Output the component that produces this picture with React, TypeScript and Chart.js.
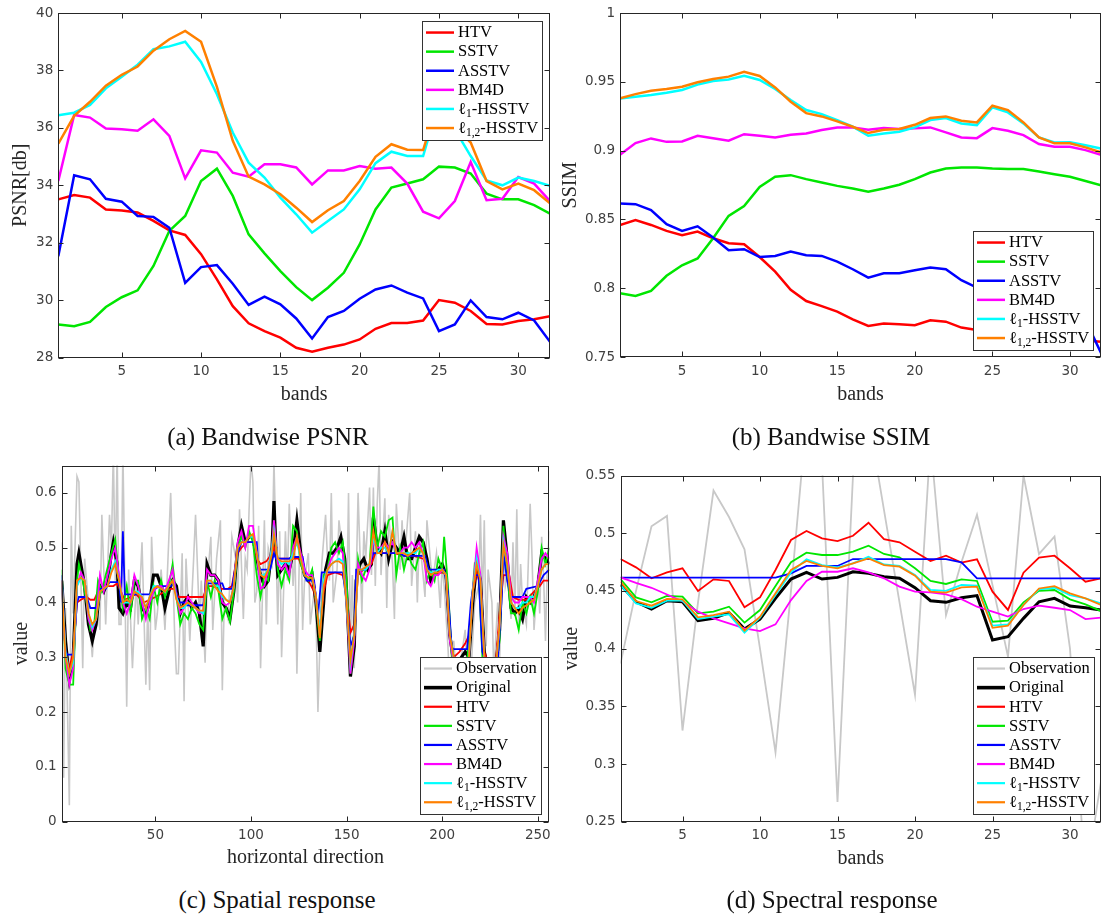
import React, { useEffect, useRef } from "react";
import { Chart, registerables } from "chart.js";

Chart.register(...registerables);

const SERIF = "'Liberation Serif', 'Times New Roman', serif";
const SANS = "'DejaVu Sans', sans-serif";

// ---------- shared band axis ----------
const bands = [1, 2, 3, 4, 5, 6, 7, 8, 9, 10, 11, 12, 13, 14, 15, 16, 17, 18, 19, 20, 21, 22, 23, 24, 25, 26, 27, 28, 29, 30, 31, 32];
const bandTicks = [5, 10, 15, 20, 25, 30];

// ---------- (a) bandwise PSNR ----------
const psnrTicks = [28, 30, 32, 34, 36, 38, 40];
const psnrHTV = [33.51, 33.66, 33.57, 33.16, 33.12, 33.05, 32.76, 32.43, 32.27, 31.6, 30.72, 29.79, 29.19, 28.92, 28.69, 28.34, 28.2, 28.34, 28.45, 28.63, 29.0, 29.2, 29.2, 29.29, 30.0, 29.91, 29.62, 29.17, 29.15, 29.27, 29.33, 29.44];
const psnrSSTV = [29.15, 29.09, 29.24, 29.76, 30.1, 30.34, 31.19, 32.41, 32.93, 34.15, 34.58, 33.63, 32.29, 31.63, 31.01, 30.45, 30.0, 30.43, 30.95, 31.94, 33.16, 33.92, 34.06, 34.21, 34.65, 34.62, 34.41, 33.71, 33.51, 33.51, 33.31, 33.01];
const psnrASSTV = [31.53, 34.35, 34.21, 33.53, 33.43, 32.93, 32.9, 32.52, 30.6, 31.15, 31.22, 30.57, 29.83, 30.12, 29.85, 29.36, 28.66, 29.41, 29.62, 30.05, 30.37, 30.51, 30.26, 30.06, 28.92, 29.15, 29.99, 29.41, 29.33, 29.56, 29.29, 28.55];
const psnrBM4D = [34.15, 36.45, 36.36, 35.98, 35.95, 35.9, 36.3, 35.72, 34.24, 35.22, 35.14, 34.44, 34.3, 34.73, 34.73, 34.62, 34.03, 34.52, 34.52, 34.67, 34.58, 34.62, 34.06, 33.08, 32.85, 33.45, 34.81, 33.48, 33.53, 34.29, 34.06, 33.45];
const psnrL1 = [36.44, 36.53, 36.8, 37.38, 37.78, 38.2, 38.74, 38.84, 39.0, 38.3, 37.17, 35.84, 34.79, 34.27, 33.57, 32.99, 32.35, 32.76, 33.16, 33.86, 34.77, 35.17, 35.02, 35.02, 36.9, 35.95, 35.02, 34.17, 34.0, 34.27, 34.15, 33.98];
const psnrL12 = [35.45, 36.42, 36.91, 37.47, 37.85, 38.14, 38.69, 39.09, 39.38, 39.0, 37.43, 35.55, 34.3, 34.03, 33.69, 33.22, 32.72, 33.13, 33.45, 34.15, 34.99, 35.43, 35.24, 35.23, 37.0, 36.05, 35.49, 34.15, 33.86, 34.06, 33.83, 33.37];

// ---------- (b) bandwise SSIM ----------
const ssimTicks = [0.75, 0.8, 0.85, 0.9, 0.95, 1];
const ssimHTV = [0.846, 0.8495, 0.846, 0.8417, 0.8385, 0.8412, 0.8363, 0.8327, 0.832, 0.8227, 0.812, 0.7988, 0.7907, 0.787, 0.783, 0.7774, 0.7726, 0.7743, 0.7738, 0.7731, 0.7767, 0.7757, 0.7714, 0.7697, 0.769, 0.768, 0.767, 0.766, 0.764, 0.763, 0.762, 0.761];
const ssimSSTV = [0.7963, 0.7944, 0.798, 0.809, 0.8167, 0.8216, 0.8363, 0.8526, 0.8598, 0.8737, 0.881, 0.8822, 0.8793, 0.8769, 0.8744, 0.8725, 0.8701, 0.8725, 0.8752, 0.8793, 0.8841, 0.887, 0.8878, 0.8878, 0.887, 0.8866, 0.8866, 0.8849, 0.8829, 0.881, 0.878, 0.8749];
const ssimASSTV = [0.8616, 0.8611, 0.8568, 0.8465, 0.8417, 0.845, 0.8368, 0.8276, 0.8284, 0.8227, 0.8235, 0.8267, 0.824, 0.8235, 0.8194, 0.8138, 0.8077, 0.8109, 0.8109, 0.8131, 0.815, 0.8138, 0.8058, 0.8004, 0.798, 0.795, 0.792, 0.789, 0.786, 0.782, 0.777, 0.753];
const ssimBM4D = [0.897, 0.9055, 0.9089, 0.9064, 0.9067, 0.9108, 0.9091, 0.9072, 0.912, 0.9108, 0.9096, 0.9116, 0.9125, 0.915, 0.9169, 0.9169, 0.9152, 0.9164, 0.9157, 0.9162, 0.9169, 0.9133, 0.9096, 0.9091, 0.9164, 0.9145, 0.9113, 0.9048, 0.9028, 0.9028, 0.9004, 0.897];
const ssimL1 = [0.938, 0.9392, 0.9404, 0.9421, 0.9441, 0.948, 0.9506, 0.9518, 0.9545, 0.9514, 0.9448, 0.9368, 0.9295, 0.9266, 0.9222, 0.9174, 0.9108, 0.9125, 0.9137, 0.9169, 0.9222, 0.9237, 0.9198, 0.9186, 0.9315, 0.9278, 0.9198, 0.9096, 0.906, 0.9062, 0.904, 0.9016];
const ssimL12 = [0.938, 0.9411, 0.9436, 0.9448, 0.9465, 0.9497, 0.9521, 0.9538, 0.9574, 0.9543, 0.946, 0.9356, 0.9273, 0.9249, 0.9213, 0.9174, 0.9128, 0.9152, 0.9157, 0.9188, 0.9237, 0.9249, 0.9217, 0.9205, 0.9327, 0.9295, 0.9205, 0.9096, 0.9053, 0.9053, 0.9024, 0.8988];

// ---------- (c) spatial response, [column, value] ----------
const spatialXTicks = [50, 100, 150, 200, 250];
const valueTicksC = [0, 0.1, 0.2, 0.3, 0.4, 0.5, 0.6];
type Pt = [number, number];
const spatialObs: Pt[] = [[1, 0.51], [2, 0.08], [3, 0.39], [5, 0.03], [6, 0.54], [7, 0.38], [9, 0.63], [10, 0.62], [12, 0.28], [13, 0.48], [15, 0.4], [17, 0.3], [19, 0.41], [21, 0.35], [22, 0.56], [24, 0.36], [26, 0.56], [27, 0.5], [28, 0.68], [29, 0.44], [30, 0.68], [31, 0.36], [32, 0.36], [33, 0.68], [34, 0.44], [35, 0.21], [36, 0.46], [38, 0.28], [40, 0.44], [41, 0.36], [43, 0.51], [45, 0.25], [46, 0.39], [47, 0.24], [48, 0.52], [50, 0.35], [51, 0.38], [53, 0.46], [55, 0.35], [56, 0.43], [58, 0.6], [60, 0.35], [61, 0.27], [62, 0.27], [64, 0.49], [65, 0.22], [66, 0.48], [68, 0.33], [70, 0.48], [71, 0.56], [73, 0.37], [74, 0.44], [76, 0.29], [77, 0.43], [79, 0.52], [80, 0.35], [82, 0.48], [84, 0.55], [85, 0.24], [86, 0.4], [88, 0.37], [89, 0.44], [90, 0.52], [92, 0.48], [93, 0.4], [94, 0.57], [96, 0.37], [97, 0.48], [98, 0.46], [99, 0.57], [100, 0.66], [101, 0.62], [102, 0.4], [103, 0.42], [104, 0.54], [105, 0.28], [107, 0.55], [108, 0.36], [109, 0.5], [111, 0.47], [112, 0.66], [114, 0.36], [115, 0.53], [116, 0.3], [118, 0.53], [119, 0.44], [120, 0.58], [122, 0.43], [123, 0.5], [124, 0.27], [126, 0.6], [127, 0.35], [128, 0.44], [130, 0.49], [131, 0.36], [133, 0.42], [134, 0.38], [135, 0.2], [136, 0.32], [137, 0.47], [139, 0.56], [140, 0.48], [141, 0.44], [142, 0.6], [143, 0.4], [145, 0.46], [146, 0.55], [148, 0.49], [150, 0.38], [151, 0.6], [152, 0.33], [153, 0.45], [154, 0.28], [156, 0.6], [158, 0.38], [159, 0.53], [160, 0.48], [162, 0.61], [163, 0.45], [164, 0.61], [165, 0.43], [166, 0.58], [167, 0.66], [168, 0.45], [169, 0.52], [170, 0.59], [171, 0.39], [172, 0.56], [174, 0.47], [175, 0.37], [176, 0.58], [178, 0.46], [179, 0.55], [180, 0.47], [181, 0.51], [183, 0.6], [184, 0.43], [186, 0.53], [187, 0.4], [188, 0.52], [190, 0.45], [191, 0.41], [192, 0.55], [194, 0.47], [195, 0.44], [197, 0.49], [199, 0.39], [200, 0.47], [201, 0.43], [203, 0.32], [204, 0.24], [206, 0.33], [208, 0.24], [210, 0.3], [212, 0.35], [213, 0.28], [215, 0.27], [217, 0.4], [219, 0.43], [220, 0.56], [221, 0.4], [222, 0.55], [223, 0.32], [224, 0.46], [226, 0.4], [227, 0.27], [229, 0.4], [230, 0.29], [231, 0.43], [232, 0.55], [233, 0.43], [234, 0.45], [236, 0.37], [237, 0.51], [238, 0.38], [239, 0.57], [240, 0.35], [241, 0.47], [242, 0.4], [244, 0.36], [245, 0.47], [246, 0.58], [247, 0.48], [248, 0.35], [250, 0.45], [251, 0.38], [252, 0.52], [253, 0.45], [254, 0.33], [255, 0.47], [256, 0.53]];
const spatialOrig: Pt[] = [[1, 0.44], [3, 0.33], [5, 0.26], [7, 0.3], [9, 0.47], [10, 0.49], [11, 0.47], [13, 0.43], [15, 0.36], [17, 0.33], [19, 0.36], [21, 0.43], [23, 0.42], [25, 0.44], [27, 0.49], [28, 0.51], [30, 0.47], [31, 0.39], [33, 0.38], [35, 0.4], [37, 0.39], [39, 0.44], [41, 0.43], [43, 0.39], [45, 0.38], [47, 0.4], [49, 0.45], [51, 0.45], [53, 0.43], [55, 0.39], [57, 0.42], [59, 0.44], [61, 0.43], [63, 0.38], [65, 0.4], [67, 0.41], [69, 0.39], [71, 0.4], [73, 0.38], [75, 0.32], [77, 0.47], [79, 0.45], [81, 0.45], [83, 0.44], [85, 0.4], [87, 0.39], [89, 0.37], [91, 0.42], [93, 0.5], [95, 0.54], [97, 0.51], [99, 0.52], [101, 0.52], [103, 0.48], [105, 0.45], [107, 0.43], [109, 0.44], [111, 0.5], [112, 0.585], [113, 0.5], [114, 0.45], [116, 0.46], [118, 0.47], [120, 0.46], [122, 0.49], [124, 0.55], [126, 0.49], [128, 0.45], [130, 0.44], [132, 0.45], [134, 0.4], [136, 0.31], [138, 0.4], [139, 0.46], [141, 0.49], [143, 0.49], [145, 0.5], [147, 0.52], [149, 0.48], [150, 0.42], [152, 0.265], [154, 0.32], [155, 0.44], [157, 0.47], [159, 0.48], [161, 0.46], [163, 0.47], [164, 0.555], [166, 0.5], [168, 0.49], [170, 0.53], [172, 0.48], [174, 0.51], [176, 0.5], [178, 0.49], [180, 0.52], [182, 0.48], [184, 0.48], [186, 0.5], [188, 0.52], [190, 0.51], [192, 0.48], [194, 0.44], [196, 0.45], [198, 0.46], [200, 0.47], [202, 0.45], [204, 0.34], [206, 0.29], [208, 0.29], [210, 0.3], [212, 0.31], [214, 0.3], [216, 0.4], [218, 0.47], [220, 0.44], [222, 0.31], [224, 0.28], [228, 0.28], [230, 0.35], [232, 0.55], [234, 0.48], [236, 0.39], [238, 0.38], [240, 0.39], [242, 0.37], [244, 0.41], [246, 0.4], [248, 0.41], [250, 0.43], [252, 0.49], [254, 0.48], [256, 0.47]];
const spatialHTV: Pt[] = [[1, 0.44], [3, 0.31], [5, 0.28], [7, 0.31], [9, 0.4], [11, 0.405], [14, 0.41], [16, 0.405], [18, 0.405], [20, 0.42], [24, 0.43], [28, 0.43], [30, 0.435], [32, 0.42], [34, 0.405], [37, 0.41], [40, 0.415], [44, 0.4], [47, 0.405], [50, 0.41], [55, 0.42], [58, 0.425], [60, 0.425], [62, 0.41], [66, 0.41], [70, 0.41], [75, 0.41], [77, 0.43], [80, 0.43], [84, 0.425], [88, 0.425], [90, 0.43], [93, 0.49], [95, 0.5], [98, 0.51], [101, 0.51], [103, 0.48], [105, 0.47], [108, 0.475], [111, 0.49], [112, 0.5], [114, 0.48], [118, 0.48], [122, 0.48], [125, 0.48], [127, 0.46], [130, 0.44], [133, 0.42], [136, 0.35], [138, 0.42], [140, 0.45], [144, 0.455], [148, 0.45], [150, 0.42], [152, 0.345], [154, 0.36], [156, 0.45], [160, 0.465], [163, 0.47], [165, 0.49], [170, 0.49], [175, 0.49], [180, 0.485], [185, 0.485], [190, 0.48], [193, 0.46], [195, 0.45], [200, 0.455], [202, 0.45], [204, 0.34], [206, 0.3], [209, 0.31], [212, 0.325], [214, 0.34], [216, 0.42], [218, 0.455], [220, 0.43], [222, 0.31], [224, 0.29], [228, 0.29], [230, 0.38], [232, 0.45], [235, 0.45], [237, 0.41], [240, 0.405], [244, 0.405], [248, 0.42], [251, 0.43], [253, 0.44], [256, 0.44]];
const spatialSSTV: Pt[] = [[1, 0.46], [3, 0.28], [5, 0.25], [7, 0.25], [9, 0.44], [10, 0.47], [12, 0.44], [14, 0.4], [16, 0.35], [18, 0.36], [20, 0.44], [22, 0.42], [24, 0.45], [27, 0.49], [29, 0.515], [31, 0.44], [33, 0.39], [35, 0.43], [37, 0.38], [39, 0.44], [41, 0.44], [43, 0.37], [45, 0.39], [47, 0.37], [49, 0.43], [51, 0.4], [53, 0.44], [55, 0.41], [57, 0.43], [59, 0.47], [61, 0.41], [63, 0.36], [65, 0.38], [67, 0.37], [69, 0.39], [71, 0.38], [73, 0.36], [75, 0.35], [77, 0.44], [79, 0.41], [81, 0.44], [83, 0.42], [85, 0.37], [87, 0.39], [89, 0.365], [91, 0.42], [93, 0.5], [95, 0.52], [97, 0.5], [99, 0.53], [101, 0.51], [103, 0.45], [105, 0.41], [107, 0.45], [109, 0.44], [111, 0.5], [112, 0.55], [114, 0.46], [116, 0.43], [118, 0.46], [120, 0.44], [122, 0.54], [124, 0.53], [126, 0.47], [128, 0.45], [130, 0.44], [132, 0.46], [134, 0.4], [136, 0.33], [138, 0.45], [140, 0.46], [142, 0.5], [144, 0.51], [146, 0.49], [148, 0.51], [150, 0.44], [152, 0.27], [154, 0.35], [156, 0.48], [158, 0.44], [160, 0.46], [162, 0.47], [164, 0.575], [166, 0.5], [168, 0.53], [170, 0.52], [172, 0.55], [174, 0.555], [176, 0.45], [178, 0.5], [180, 0.46], [182, 0.49], [184, 0.47], [186, 0.46], [188, 0.49], [190, 0.51], [192, 0.44], [194, 0.46], [196, 0.44], [198, 0.48], [200, 0.46], [201, 0.52], [203, 0.43], [205, 0.3], [207, 0.29], [210, 0.28], [213, 0.29], [215, 0.38], [217, 0.47], [219, 0.46], [221, 0.3], [224, 0.28], [228, 0.28], [230, 0.33], [232, 0.54], [234, 0.45], [236, 0.38], [238, 0.38], [240, 0.35], [242, 0.4], [244, 0.38], [246, 0.41], [248, 0.38], [250, 0.42], [252, 0.5], [254, 0.47], [256, 0.5]];
const spatialASSTV: Pt[] = [[1, 0.45], [3, 0.31], [4, 0.305], [7, 0.305], [9, 0.4], [10, 0.41], [14, 0.41], [16, 0.39], [19, 0.39], [21, 0.425], [24, 0.425], [26, 0.437], [31, 0.437], [32, 0.4], [33, 0.53], [34, 0.415], [48, 0.415], [50, 0.425], [52, 0.43], [58, 0.43], [60, 0.435], [62, 0.4], [65, 0.4], [66, 0.395], [75, 0.395], [77, 0.435], [85, 0.435], [86, 0.425], [90, 0.425], [93, 0.49], [95, 0.51], [103, 0.51], [104, 0.46], [110, 0.46], [112, 0.49], [113, 0.48], [120, 0.48], [121, 0.483], [127, 0.483], [129, 0.44], [133, 0.44], [135, 0.375], [137, 0.455], [148, 0.455], [150, 0.4], [152, 0.32], [154, 0.34], [155, 0.46], [160, 0.46], [162, 0.47], [164, 0.49], [178, 0.49], [180, 0.485], [191, 0.485], [193, 0.46], [201, 0.46], [203, 0.42], [205, 0.315], [213, 0.315], [215, 0.4], [217, 0.45], [219, 0.45], [221, 0.31], [223, 0.29], [229, 0.29], [231, 0.4], [232, 0.49], [234, 0.44], [236, 0.41], [242, 0.41], [244, 0.425], [250, 0.43], [253, 0.45], [256, 0.46]];
const spatialBM4D: Pt[] = [[1, 0.44], [3, 0.3], [5, 0.25], [7, 0.28], [9, 0.43], [11, 0.455], [13, 0.44], [15, 0.37], [17, 0.35], [19, 0.37], [21, 0.45], [23, 0.42], [25, 0.45], [27, 0.48], [29, 0.5], [31, 0.45], [33, 0.4], [35, 0.38], [37, 0.4], [39, 0.45], [41, 0.43], [43, 0.4], [45, 0.37], [47, 0.4], [49, 0.42], [51, 0.43], [53, 0.43], [55, 0.42], [57, 0.44], [59, 0.46], [61, 0.41], [63, 0.38], [65, 0.39], [67, 0.41], [69, 0.4], [71, 0.39], [73, 0.38], [75, 0.38], [77, 0.46], [79, 0.45], [81, 0.45], [83, 0.44], [85, 0.4], [87, 0.395], [89, 0.4], [91, 0.43], [93, 0.51], [95, 0.53], [97, 0.5], [99, 0.54], [101, 0.54], [103, 0.49], [105, 0.425], [107, 0.43], [109, 0.46], [111, 0.5], [112, 0.55], [114, 0.47], [116, 0.46], [118, 0.47], [120, 0.45], [122, 0.5], [124, 0.52], [126, 0.49], [128, 0.46], [130, 0.45], [132, 0.45], [134, 0.41], [136, 0.34], [138, 0.44], [140, 0.46], [142, 0.48], [144, 0.49], [146, 0.5], [148, 0.49], [150, 0.4], [152, 0.27], [154, 0.33], [156, 0.47], [158, 0.45], [160, 0.44], [162, 0.46], [164, 0.51], [166, 0.5], [168, 0.5], [170, 0.51], [172, 0.5], [174, 0.51], [176, 0.49], [178, 0.49], [180, 0.5], [182, 0.5], [184, 0.51], [186, 0.5], [188, 0.51], [190, 0.49], [192, 0.44], [194, 0.43], [196, 0.45], [198, 0.45], [200, 0.46], [202, 0.45], [204, 0.33], [206, 0.29], [210, 0.29], [214, 0.3], [216, 0.42], [218, 0.5], [220, 0.45], [222, 0.3], [224, 0.28], [228, 0.28], [230, 0.36], [232, 0.52], [234, 0.49], [236, 0.41], [238, 0.4], [240, 0.4], [242, 0.41], [244, 0.41], [246, 0.41], [248, 0.4], [250, 0.44], [252, 0.48], [254, 0.49], [256, 0.48]];
const spatialL1: Pt[] = [[1, 0.44], [3, 0.31], [5, 0.27], [7, 0.29], [9, 0.43], [11, 0.445], [13, 0.44], [15, 0.38], [17, 0.355], [19, 0.37], [21, 0.42], [23, 0.425], [25, 0.43], [27, 0.46], [29, 0.475], [31, 0.44], [33, 0.4], [35, 0.4], [37, 0.4], [39, 0.42], [41, 0.42], [43, 0.41], [45, 0.39], [47, 0.41], [49, 0.43], [51, 0.43], [53, 0.425], [55, 0.42], [57, 0.43], [59, 0.44], [61, 0.41], [63, 0.39], [65, 0.39], [67, 0.4], [69, 0.395], [71, 0.39], [73, 0.385], [75, 0.38], [77, 0.44], [79, 0.44], [81, 0.43], [83, 0.43], [85, 0.41], [87, 0.405], [89, 0.4], [91, 0.43], [93, 0.5], [95, 0.51], [97, 0.51], [99, 0.52], [101, 0.52], [103, 0.49], [105, 0.45], [107, 0.45], [109, 0.46], [111, 0.5], [112, 0.53], [114, 0.48], [116, 0.47], [118, 0.475], [120, 0.47], [122, 0.49], [124, 0.51], [126, 0.48], [128, 0.45], [130, 0.445], [132, 0.445], [134, 0.41], [136, 0.345], [138, 0.44], [140, 0.46], [142, 0.47], [144, 0.475], [146, 0.48], [148, 0.475], [150, 0.4], [152, 0.29], [154, 0.34], [156, 0.46], [158, 0.46], [160, 0.46], [162, 0.47], [164, 0.52], [166, 0.49], [168, 0.5], [170, 0.5], [172, 0.49], [174, 0.53], [176, 0.49], [178, 0.49], [180, 0.49], [182, 0.49], [184, 0.49], [186, 0.49], [188, 0.5], [190, 0.49], [192, 0.46], [194, 0.455], [196, 0.455], [198, 0.46], [200, 0.46], [202, 0.45], [204, 0.34], [206, 0.3], [210, 0.29], [214, 0.3], [216, 0.42], [218, 0.48], [220, 0.44], [222, 0.3], [224, 0.28], [228, 0.28], [230, 0.36], [232, 0.51], [234, 0.47], [236, 0.4], [238, 0.39], [240, 0.39], [242, 0.4], [244, 0.4], [246, 0.41], [248, 0.41], [250, 0.43], [252, 0.46], [254, 0.47], [256, 0.47]];
const spatialL12: Pt[] = [[1, 0.44], [3, 0.3], [5, 0.27], [7, 0.3], [9, 0.44], [11, 0.445], [13, 0.44], [15, 0.38], [17, 0.36], [19, 0.37], [21, 0.42], [23, 0.425], [25, 0.43], [27, 0.455], [29, 0.47], [31, 0.44], [33, 0.4], [35, 0.405], [37, 0.4], [39, 0.42], [41, 0.415], [43, 0.41], [45, 0.39], [47, 0.41], [49, 0.425], [51, 0.43], [53, 0.425], [55, 0.42], [57, 0.43], [59, 0.44], [61, 0.405], [63, 0.39], [65, 0.395], [67, 0.4], [69, 0.395], [71, 0.39], [73, 0.385], [75, 0.385], [77, 0.44], [79, 0.44], [81, 0.43], [83, 0.42], [85, 0.415], [87, 0.405], [89, 0.4], [91, 0.43], [93, 0.5], [95, 0.51], [97, 0.51], [99, 0.52], [101, 0.525], [103, 0.49], [105, 0.45], [107, 0.445], [109, 0.46], [111, 0.49], [112, 0.525], [114, 0.48], [116, 0.475], [118, 0.475], [120, 0.475], [122, 0.48], [124, 0.52], [126, 0.48], [128, 0.45], [130, 0.445], [132, 0.445], [134, 0.41], [136, 0.335], [138, 0.43], [140, 0.46], [142, 0.47], [144, 0.475], [146, 0.475], [148, 0.47], [150, 0.4], [152, 0.295], [154, 0.34], [156, 0.46], [158, 0.46], [160, 0.465], [162, 0.47], [164, 0.53], [166, 0.49], [168, 0.49], [170, 0.51], [172, 0.49], [174, 0.53], [176, 0.49], [178, 0.49], [180, 0.49], [182, 0.485], [184, 0.49], [186, 0.495], [188, 0.5], [190, 0.49], [192, 0.46], [194, 0.45], [196, 0.455], [198, 0.455], [200, 0.46], [202, 0.45], [204, 0.34], [206, 0.3], [210, 0.29], [214, 0.3], [216, 0.42], [218, 0.47], [220, 0.44], [222, 0.3], [224, 0.28], [228, 0.28], [230, 0.36], [232, 0.505], [234, 0.47], [236, 0.4], [238, 0.39], [240, 0.38], [242, 0.39], [244, 0.395], [246, 0.4], [248, 0.405], [250, 0.43], [252, 0.46], [254, 0.47], [256, 0.47]];

// ---------- (d) spectral response ----------
const valueTicksD = [0.25, 0.3, 0.35, 0.4, 0.45, 0.5, 0.55];
const specObs = [0.387, 0.45, 0.506, 0.515, 0.329, 0.44, 0.537, 0.514, 0.486, 0.4, 0.31, 0.45, 0.6, 0.56, 0.267, 0.55, 0.6, 0.52, 0.44, 0.36, 0.58, 0.429, 0.475, 0.516, 0.455, 0.393, 0.55, 0.482, 0.497, 0.4, 0.2, 0.285];
const specOrig = [0.4556, 0.4406, 0.4343, 0.4415, 0.4406, 0.4242, 0.4262, 0.4311, 0.417, 0.4256, 0.4435, 0.4603, 0.466, 0.4603, 0.4617, 0.4666, 0.4652, 0.4623, 0.4609, 0.4528, 0.4415, 0.4401, 0.4441, 0.4459, 0.4075, 0.4104, 0.4262, 0.4406, 0.4435, 0.4369, 0.4354, 0.4334];
const specHTV = [0.4776, 0.4704, 0.4609, 0.466, 0.4696, 0.45, 0.46, 0.4586, 0.4358, 0.4444, 0.4681, 0.4941, 0.5019, 0.4955, 0.4932, 0.4978, 0.5091, 0.4949, 0.4921, 0.484, 0.4759, 0.4805, 0.4745, 0.4773, 0.4493, 0.4335, 0.4658, 0.4788, 0.4805, 0.4696, 0.458, 0.4609];
const specSSTV = [0.4603, 0.4444, 0.4401, 0.4456, 0.445, 0.4306, 0.432, 0.4363, 0.4225, 0.4334, 0.4542, 0.4748, 0.4831, 0.4811, 0.4811, 0.484, 0.4892, 0.482, 0.4791, 0.4696, 0.4586, 0.456, 0.46, 0.4586, 0.4233, 0.4242, 0.4401, 0.45, 0.4508, 0.4427, 0.4383, 0.4325];
const specASSTV = [0.4615, 0.4615, 0.4615, 0.4615, 0.4615, 0.4615, 0.4615, 0.4615, 0.4615, 0.4615, 0.4615, 0.4652, 0.4716, 0.4716, 0.4716, 0.4776, 0.4776, 0.4776, 0.4776, 0.4776, 0.4776, 0.4776, 0.4748, 0.4609, 0.4609, 0.4609, 0.4609, 0.4609, 0.4609, 0.4609, 0.4609, 0.4609];
const specBM4D = [0.4617, 0.457, 0.4527, 0.4469, 0.4411, 0.432, 0.4262, 0.4219, 0.4175, 0.4152, 0.421, 0.442, 0.4586, 0.4666, 0.4666, 0.4696, 0.466, 0.4609, 0.4537, 0.4493, 0.4488, 0.4469, 0.4429, 0.4363, 0.432, 0.4277, 0.4343, 0.4372, 0.4354, 0.4334, 0.4256, 0.4268];
const specL1 = [0.4551, 0.4392, 0.4354, 0.4415, 0.4415, 0.4256, 0.4277, 0.4297, 0.4138, 0.4268, 0.4464, 0.466, 0.4773, 0.4724, 0.4704, 0.4739, 0.4797, 0.4729, 0.4716, 0.4638, 0.4508, 0.45, 0.4551, 0.4546, 0.4199, 0.421, 0.4378, 0.4513, 0.4527, 0.4464, 0.4435, 0.4392];
const specL12 = [0.458, 0.4412, 0.4372, 0.443, 0.4427, 0.4271, 0.4291, 0.432, 0.4155, 0.4277, 0.4479, 0.4681, 0.4759, 0.4716, 0.4696, 0.4739, 0.4782, 0.4724, 0.471, 0.4632, 0.4493, 0.4485, 0.4531, 0.4537, 0.418, 0.4199, 0.4378, 0.4521, 0.4541, 0.4479, 0.4435, 0.4378];

// ---------- method names & colours ----------
const NAME_OBS = "Observation";
const NAME_ORIG = "Original";
const NAME_HTV = "HTV";
const NAME_SSTV = "SSTV";
const NAME_ASSTV = "ASSTV";
const NAME_BM4D = "BM4D";
const NAME_L1 = "ℓ_{1}-HSSTV";
const NAME_L12 = "ℓ_{1,2}-HSSTV";

const C_OBS = "#c8c8c8";
const C_ORIG = "#000000";
const C_HTV = "#ff0000";
const C_SSTV = "#00e600";
const C_ASSTV = "#0000ff";
const C_BM4D = "#ff00ff";
const C_L1 = "#00ffff";
const C_L12 = "#ff8000";

type XY = { x: number; y: number };
const onBands = (vals: number[]): XY[] => bands.map((b, i) => ({ x: b, y: vals[i] }));
const fromPairs = (pts: Pt[]): XY[] => pts.map(([x, y]) => ({ x, y }));

interface Series {
  label: string;
  color: string;
  width: number;
  legendWidth: number;
  data: XY[];
}

interface Panel {
  key: string;
  left: number;
  top: number;
  width: number;
  height: number;
  padTop: number;
  padRight: number;
  axisW: number;
  axisH: number;
  yTitlePad: number;
  xMin: number;
  xMax: number;
  xTicks: number[];
  yMin: number;
  yMax: number;
  yTicks: number[];
  xTitle: string;
  yTitle: string;
  legendCorner: "tr" | "br";
  legendDx: number;
  legendDy: number;
  series: Series[];
  caption: string;
  capX: number;
  capY: number;
}

const six = (h: number[], s: number[], a: number[], b: number[], l1: number[], l12: number[], w: number): Series[] => [
  { label: NAME_HTV, color: C_HTV, width: w, legendWidth: w, data: onBands(h) },
  { label: NAME_SSTV, color: C_SSTV, width: w, legendWidth: w, data: onBands(s) },
  { label: NAME_ASSTV, color: C_ASSTV, width: w, legendWidth: w, data: onBands(a) },
  { label: NAME_BM4D, color: C_BM4D, width: w, legendWidth: w, data: onBands(b) },
  { label: NAME_L1, color: C_L1, width: w, legendWidth: w, data: onBands(l1) },
  { label: NAME_L12, color: C_L12, width: w, legendWidth: w, data: onBands(l12) },
];

const panels: Panel[] = [
  {
    key: "a", left: 0, top: 0, width: 565, height: 407, padTop: 12.3, padRight: 15, axisW: 58.3, axisH: 49.5, yTitlePad: 8.4,
    xMin: 1, xMax: 32, xTicks: bandTicks, yMin: 28, yMax: 40, yTicks: psnrTicks,
    xTitle: "bands", yTitle: "PSNR[db]", legendCorner: "tr", legendDx: 8, legendDy: 7.7,
    series: six(psnrHTV, psnrSSTV, psnrASSTV, psnrBM4D, psnrL1, psnrL12, 2.5),
    caption: "(a) Bandwise PSNR", capX: 268, capY: 437,
  },
  {
    key: "b", left: 548, top: 0, width: 557, height: 407, padTop: 12.5, padRight: 4, axisW: 72, axisH: 50, yTitlePad: 10.6,
    xMin: 1, xMax: 32, xTicks: bandTicks, yMin: 0.75, yMax: 1, yTicks: ssimTicks,
    xTitle: "bands", yTitle: "SSIM", legendCorner: "br", legendDx: 8, legendDy: 7,
    series: six(ssimHTV, ssimSSTV, ssimASSTV, ssimBM4D, ssimL1, ssimL12, 2.5),
    caption: "(b) Bandwise SSIM", capX: 831, capY: 437,
  },
  {
    key: "c", left: 0, top: 440, width: 565, height: 430, padTop: 25.5, padRight: 15.7, axisW: 61.7, axisH: 48.3, yTitlePad: 9.4,
    xMin: 1, xMax: 256, xTicks: spatialXTicks, yMin: 0, yMax: 0.65, yTicks: valueTicksC,
    xTitle: "horizontal direction", yTitle: "value", legendCorner: "br", legendDx: 8, legendDy: 7.7,
    series: [
      { label: NAME_OBS, color: C_OBS, width: 1.6, legendWidth: 2.2, data: fromPairs(spatialObs) },
      { label: NAME_ORIG, color: C_ORIG, width: 3.2, legendWidth: 3.6, data: fromPairs(spatialOrig) },
      { label: NAME_HTV, color: C_HTV, width: 1.8, legendWidth: 2.2, data: fromPairs(spatialHTV) },
      { label: NAME_SSTV, color: C_SSTV, width: 1.8, legendWidth: 2.2, data: fromPairs(spatialSSTV) },
      { label: NAME_ASSTV, color: C_ASSTV, width: 1.8, legendWidth: 2.2, data: fromPairs(spatialASSTV) },
      { label: NAME_BM4D, color: C_BM4D, width: 1.8, legendWidth: 2.2, data: fromPairs(spatialBM4D) },
      { label: NAME_L1, color: C_L1, width: 1.8, legendWidth: 2.2, data: fromPairs(spatialL1) },
      { label: NAME_L12, color: C_L12, width: 1.8, legendWidth: 2.2, data: fromPairs(spatialL12) },
    ],
    caption: "(c) Spatial response", capX: 277, capY: 900,
  },
  {
    key: "d", left: 548, top: 440, width: 557, height: 431, padTop: 35.5, padRight: 4, axisW: 72.5, axisH: 49.3, yTitlePad: 12,
    xMin: 1, xMax: 32, xTicks: bandTicks, yMin: 0.25, yMax: 0.55, yTicks: valueTicksD,
    xTitle: "bands", yTitle: "value", legendCorner: "br", legendDx: 7, legendDy: 7.7,
    series: [
      { label: NAME_OBS, color: C_OBS, width: 1.8, legendWidth: 2.2, data: onBands(specObs) },
      { label: NAME_ORIG, color: C_ORIG, width: 3, legendWidth: 3.6, data: onBands(specOrig) },
      { label: NAME_HTV, color: C_HTV, width: 1.8, legendWidth: 2.2, data: onBands(specHTV) },
      { label: NAME_SSTV, color: C_SSTV, width: 1.8, legendWidth: 2.2, data: onBands(specSSTV) },
      { label: NAME_ASSTV, color: C_ASSTV, width: 1.8, legendWidth: 2.2, data: onBands(specASSTV) },
      { label: NAME_BM4D, color: C_BM4D, width: 1.8, legendWidth: 2.2, data: onBands(specBM4D) },
      { label: NAME_L1, color: C_L1, width: 1.8, legendWidth: 2.2, data: onBands(specL1) },
      { label: NAME_L12, color: C_L12, width: 1.8, legendWidth: 2.2, data: onBands(specL12) },
    ],
    caption: "(d) Spectral response", capX: 832, capY: 900,
  },
];

// ---------- text with _{subscript} markup ----------
const LEGEND_SIZE = 16.5;

function richText(ctx: CanvasRenderingContext2D, text: string, x: number, y: number, size: number, draw: boolean): number {
  const re = /_\{([^}]*)\}/g;
  let last = 0;
  let cx = x;
  let m: RegExpExecArray | null;
  const put = (s: string, sz: number, dy: number) => {
    if (!s) return;
    ctx.font = `${sz}px ${SERIF}`;
    if (draw) ctx.fillText(s, cx, y + dy);
    cx += ctx.measureText(s).width;
  };
  while ((m = re.exec(text))) {
    put(text.slice(last, m.index), size, 0);
    put(m[1], size * 0.7, size * 0.28);
    last = re.lastIndex;
  }
  put(text.slice(last), size, 0);
  return cx - x;
}

// boxed legend drawn inside the plot area
const boxLegend = {
  id: "boxLegend",
  afterDraw(chart: any, _args: any, opts: any) {
    const { ctx, chartArea: a } = chart;
    const items = chart.data.datasets as any[];
    const rowH = 19.1;
    ctx.save();
    ctx.textBaseline = "middle";
    ctx.textAlign = "left";
    const textW = Math.max(...items.map((d) => richText(ctx, d.label, 0, 0, LEGEND_SIZE, false)));
    const w = Math.round(4 + 28 + 4 + textW + 4);
    const h = Math.round(items.length * rowH + 4);
    const x0 = Math.round(a.right - opts.dx - w);
    const y0 = Math.round(opts.corner === "tr" ? a.top + opts.dy : a.bottom - opts.dy - h);
    ctx.fillStyle = "#ffffff";
    ctx.fillRect(x0, y0, w, h);
    ctx.strokeStyle = "#333333";
    ctx.lineWidth = 1;
    ctx.strokeRect(x0 + 0.5, y0 + 0.5, w, h);
    items.forEach((d, i) => {
      const cy = y0 + 2 + rowH * (i + 0.5);
      ctx.strokeStyle = d.borderColor;
      ctx.lineWidth = d.legendWidth;
      ctx.beginPath();
      ctx.moveTo(x0 + 4, cy);
      ctx.lineTo(x0 + 32, cy);
      ctx.stroke();
      ctx.fillStyle = "#000000";
      richText(ctx, d.label, x0 + 36, cy + 0.5, LEGEND_SIZE, true);
    });
    ctx.restore();
  },
};

// full box around the plot with inward tick marks on all four sides
const boxAxes = {
  id: "boxAxes",
  afterDatasetsDraw(chart: any) {
    const { ctx, chartArea: a, scales } = chart;
    const xs = scales.x;
    const ys = scales.y;
    const L = Math.round(a.left) + 0.5;
    const R = Math.round(a.right) - 0.5;
    const T = Math.round(a.top) + 0.5;
    const B = Math.round(a.bottom) - 0.5;
    const tl = 5;
    ctx.save();
    ctx.strokeStyle = "#262626";
    ctx.lineWidth = 1;
    ctx.strokeRect(L, T, R - L, B - T);
    ctx.beginPath();
    xs.ticks.forEach((t: any) => {
      const px = Math.round(xs.getPixelForValue(t.value)) + 0.5;
      ctx.moveTo(px, B);
      ctx.lineTo(px, B - tl);
      ctx.moveTo(px, T);
      ctx.lineTo(px, T + tl);
    });
    ys.ticks.forEach((t: any) => {
      const py = Math.round(ys.getPixelForValue(t.value)) + 0.5;
      ctx.moveTo(L, py);
      ctx.lineTo(L + tl, py);
      ctx.moveTo(R, py);
      ctx.lineTo(R - tl, py);
    });
    ctx.stroke();
    ctx.restore();
  },
};

function buildConfig(p: Panel): any {
  const n = p.series.length;
  const tickFont = { family: SANS, size: 13.5 };
  const titleFont = { family: SERIF, size: 20 };
  return {
    type: "line",
    data: {
      datasets: p.series.map((s, i) => ({
        label: s.label,
        data: s.data,
        borderColor: s.color,
        backgroundColor: s.color,
        borderWidth: s.width,
        legendWidth: s.legendWidth,
        pointRadius: 0,
        pointHoverRadius: 0,
        tension: 0,
        fill: false,
        clip: 0,
        order: n - i,
      })),
    },
    plugins: [boxAxes, boxLegend],
    options: {
      responsive: false,
      animation: false,
      events: [],
      layout: { padding: { left: 0, top: p.padTop, right: p.padRight, bottom: 0 } },
      plugins: {
        legend: { display: false },
        tooltip: { enabled: false },
        boxLegend: { corner: p.legendCorner, dx: p.legendDx, dy: p.legendDy },
      },
      scales: {
        x: {
          type: "linear",
          min: p.xMin,
          max: p.xMax,
          grid: { display: false, drawTicks: false },
          border: { display: false },
          ticks: { font: tickFont, color: "#404040", padding: 6, maxRotation: 0, autoSkip: false, callback: (v: number) => String(v) },
          afterBuildTicks: (s: any) => {
            s.ticks = p.xTicks.map((v) => ({ value: v }));
          },
          afterFit: (s: any) => {
            s.height = p.axisH;
          },
          title: { display: true, text: p.xTitle, font: titleFont, color: "#262626", padding: { top: 0, bottom: 0 } },
        },
        y: {
          type: "linear",
          min: p.yMin,
          max: p.yMax,
          grid: { display: false, drawTicks: false },
          border: { display: false },
          ticks: { font: tickFont, color: "#404040", padding: 5, autoSkip: false, callback: (v: number) => String(v) },
          afterBuildTicks: (s: any) => {
            s.ticks = p.yTicks.map((v) => ({ value: v }));
          },
          afterFit: (s: any) => {
            s.width = p.axisW;
          },
          title: { display: true, text: p.yTitle, font: titleFont, color: "#262626", padding: { top: p.yTitlePad, bottom: 0 } },
        },
      },
    },
  };
}

function PanelChart({ panel }: { panel: Panel }) {
  const ref = useRef<HTMLCanvasElement | null>(null);
  useEffect(() => {
    if (!ref.current) return;
    const chart = new Chart(ref.current, buildConfig(panel));
    return () => chart.destroy();
  }, [panel]);
  return (
    <canvas
      ref={ref}
      width={panel.width}
      height={panel.height}
      style={{ position: "absolute", left: panel.left, top: panel.top, width: panel.width, height: panel.height }}
    />
  );
}

export default function App() {
  return (
    <div style={{ position: "absolute", left: 0, top: 0, width: 1105, height: 918, background: "#ffffff", overflow: "hidden" }}>
      {panels.map((p) => (
        <PanelChart key={p.key} panel={p} />
      ))}
      {panels.map((p) => (
        <div
          key={`cap-${p.key}`}
          style={{
            position: "absolute",
            left: p.capX - 250,
            width: 500,
            top: p.capY - 15,
            height: 30,
            lineHeight: "30px",
            textAlign: "center",
            fontFamily: SERIF,
            fontSize: 25,
            color: "#111111",
            whiteSpace: "nowrap",
          }}
        >
          {p.caption}
        </div>
      ))}
    </div>
  );
}
